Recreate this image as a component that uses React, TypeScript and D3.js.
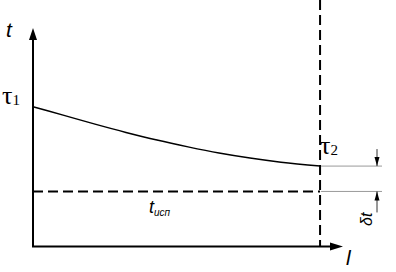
import React, { useEffect, useRef } from "react";
import * as d3 from "d3";

// curve t(l) (l in 0..100, t in 0..100)
const lValues = [0, 10, 20, 30, 40, 50, 60, 70, 80, 92.6];
const tValues = [64.0, 60.0, 56.0, 52.2, 48.7, 45.6, 42.8, 40.5, 38.6, 36.8];
const tIsp = 25.2;
const lEnd = 92.6;
const axisMax = [100, 100];
const labels = ["t", "l", "τ", "δt", "исп"];

export default function App() {
  const svgRef = useRef<SVGSVGElement>(null);

  useEffect(() => {
    const svg = d3.select(svgRef.current);
    svg.selectAll("*").remove();

    const x = d3.scaleLinear().domain([0, axisMax[0]]).range([33, 343]);
    const y = d3.scaleLinear().domain([0, axisMax[1]]).range([246.5, 28]);
    const pts = lValues.map((l, i) => [l, tValues[i]] as [number, number]);

    // axes
    svg.append("line")
      .attr("x1", x(0)).attr("y1", y(0)).attr("x2", x(0)).attr("y2", y(100) + 8)
      .attr("stroke", "#000").attr("stroke-width", 2);
    svg.append("path")
      .attr("d", `M${x(0)},${y(100)} L${x(0) - 4},${y(100) + 12} L${x(0) + 4},${y(100) + 12} Z`)
      .attr("fill", "#000");
    svg.append("line")
      .attr("x1", x(0) - 1).attr("y1", y(0)).attr("x2", x(100) - 8).attr("y2", y(0))
      .attr("stroke", "#000").attr("stroke-width", 2);
    svg.append("path")
      .attr("d", `M${x(100)},${y(0)} L${x(100) - 13},${y(0) - 4} L${x(100) - 13},${y(0) + 4} Z`)
      .attr("fill", "#000");

    // dashed lines
    svg.append("line")
      .attr("x1", x(lEnd)).attr("y1", 0).attr("x2", x(lEnd)).attr("y2", y(0))
      .attr("stroke", "#000").attr("stroke-width", 2).attr("stroke-dasharray", "10,5");
    svg.append("line")
      .attr("x1", x(0)).attr("y1", y(tIsp)).attr("x2", x(lEnd)).attr("y2", y(tIsp))
      .attr("stroke", "#000").attr("stroke-width", 2).attr("stroke-dasharray", "10,5");

    // curve
    const line = d3.line<[number, number]>()
      .x(d => x(d[0])).y(d => y(d[1]))
      .curve(d3.curveMonotoneX);
    svg.append("path")
      .attr("d", line(pts))
      .attr("fill", "none").attr("stroke", "#000").attr("stroke-width", 1.5);

    // dimension δt
    const t2 = tValues[tValues.length - 1];
    const dx = 377;
    [t2, tIsp].forEach(v => {
      svg.append("line")
        .attr("x1", x(lEnd) + 1).attr("y1", y(v)).attr("x2", 382).attr("y2", y(v))
        .attr("stroke", "#9a9a9a").attr("stroke-width", 1);
    });
    svg.append("line")
      .attr("x1", dx).attr("y1", y(t2) - 17).attr("x2", dx).attr("y2", y(t2))
      .attr("stroke", "#333").attr("stroke-width", 1);
    svg.append("path")
      .attr("d", `M${dx},${y(t2)} L${dx - 2.5},${y(t2) - 9} L${dx + 2.5},${y(t2) - 9} Z`)
      .attr("fill", "#000");
    svg.append("line")
      .attr("x1", dx).attr("y1", y(tIsp)).attr("x2", dx).attr("y2", y(tIsp) + 21)
      .attr("stroke", "#333").attr("stroke-width", 1);
    svg.append("path")
      .attr("d", `M${dx},${y(tIsp)} L${dx - 2.5},${y(tIsp) + 9} L${dx + 2.5},${y(tIsp) + 9} Z`)
      .attr("fill", "#000");

    // labels
    const sans = "'Liberation Sans', Arial, sans-serif";
    const serif = "'Liberation Serif', 'Times New Roman', serif";
    svg.append("text").attr("x", 6).attr("y", 37)
      .attr("font-family", sans).attr("font-style", "italic").attr("font-size", 21)
      .text(labels[0]);
    svg.append("text").attr("x", 346).attr("y", 265)
      .attr("font-family", sans).attr("font-style", "italic").attr("font-size", 21)
      .text(labels[1]);

    const tau = (px: number, py: number, sub: string) => {
      const tx = svg.append("text").attr("x", px).attr("y", py)
        .attr("font-family", serif).attr("font-size", 26);
      tx.append("tspan").text(labels[2]);
      tx.append("tspan").attr("font-size", 15).attr("dy", 1).text(sub);
    };
    tau(2, y(tValues[0]) - 3, "1");
    tau(320, y(t2) - 12, "2");

    const ti = svg.append("text").attr("x", 149).attr("y", 213)
      .attr("font-family", sans).attr("font-style", "italic").attr("font-size", 18);
    ti.append("tspan").text(labels[0]);
    ti.append("tspan").attr("font-size", 10).attr("dy", 3).text(labels[4]);

    svg.append("text")
      .attr("transform", `translate(${372},${226}) rotate(-90)`)
      .attr("font-family", sans).attr("font-style", "italic").attr("font-size", 16)
      .text(labels[3]);
  }, []);

  return (
    <div style={{ position: "absolute", left: 0, top: 0 }}>
      <svg ref={svgRef} width={396} height={272} style={{ display: "block", background: "#fff" }} />
    </div>
  );
}
